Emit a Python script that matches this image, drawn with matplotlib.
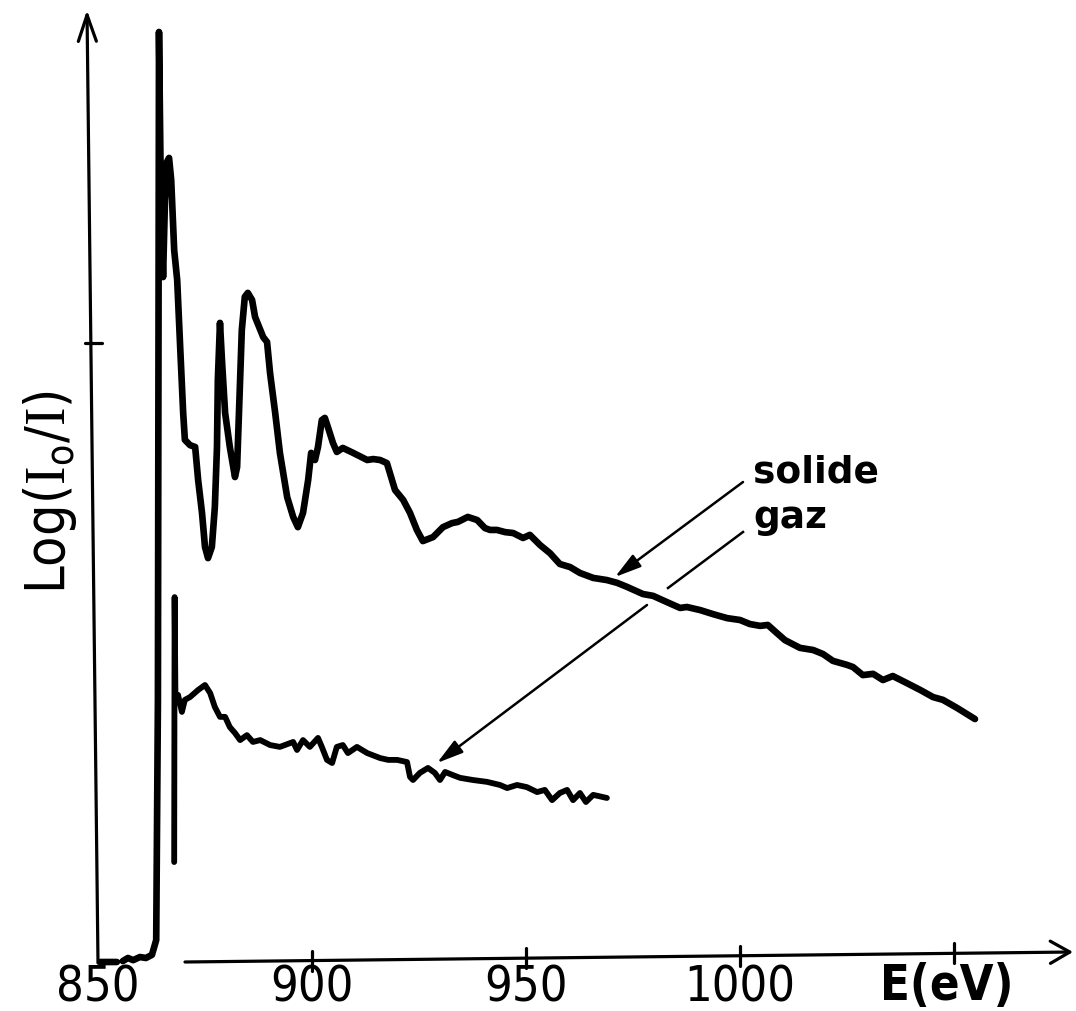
import numpy as np
import matplotlib
matplotlib.use("Agg")
import matplotlib.pyplot as plt
from matplotlib import font_manager as fm

# ---------------- data ----------------
# solid spectrum: photon energy (eV) and Log(I0/I) (arbitrary units)
solide_E = [850.5, 854.4, np.nan, 855.8, 857.0, 858.2, 859.8, 861.2, 862.6, 863.6, 864.0,
            864.25, 864.7, 865.2, 865.65, 866.1, 866.6, 867.1, 867.8, 868.5, 869.2,
            869.9, 870.3, 871.5, 872.7, 873.4, 874.3, 875.0, 875.7, 876.6, 877.3,
            877.8, 878.0, 878.5, 879.0, 879.7, 880.8, 882.0, 882.5, 883.2, 883.6,
            884.3, 885.0, 886.0, 886.7, 888.6, 889.5, 890.2, 891.4, 892.5, 894.2,
            895.6, 896.7, 897.9, 899.1, 899.8, 900.7, 901.4, 902.3, 903.0, 903.7,
            904.9, 905.8, 907.2, 909.6, 912.9, 914.3, 915.9, 917.5, 918.7, 919.4,
            921.3, 922.9, 924.5, 925.9, 928.3, 930.6, 932.7, 934.1, 936.4, 938.6,
            940.4, 941.6, 943.2, 945.1, 947.0, 949.3, 950.9, 953.3, 955.6, 957.9,
            960.3, 962.6, 965.7, 968.9, 971.3, 973.6, 977.3, 979.7, 982.9, 986.0,
            987.6, 990.7, 993.7, 997.0, 1000.0, 1002.3, 1004.7, 1006.5, 1008.6, 1010.5,
            1014.0, 1017.1, 1019.4, 1021.7, 1025.0, 1026.4, 1028.7, 1031.1, 1033.4, 1035.7,
            1039.0, 1042.1, 1045.1, 1047.4, 1050.7, 1054.9]
solide_A = [0.000, 0.000, np.nan, 0.003, 0.013, 0.006, 0.016, 0.013, 0.023, 0.071, 0.847,
            3.005, 2.462, 2.213, 2.462, 2.585, 2.598, 2.527, 2.300, 2.204, 1.987,
            1.774, 1.687, 1.670, 1.664, 1.557, 1.451, 1.341, 1.305, 1.341, 1.470,
            1.664, 1.880, 2.065, 1.935, 1.774, 1.664, 1.567, 1.599, 1.880, 2.042,
            2.149, 2.162, 2.139, 2.084, 2.019, 2.003, 1.903, 1.774, 1.645, 1.502,
            1.438, 1.405, 1.451, 1.557, 1.645, 1.622, 1.664, 1.751, 1.758, 1.729,
            1.677, 1.648, 1.661, 1.645, 1.622, 1.625, 1.622, 1.612, 1.557, 1.525,
            1.493, 1.451, 1.396, 1.360, 1.373, 1.405, 1.418, 1.422, 1.438, 1.428,
            1.402, 1.396, 1.396, 1.389, 1.386, 1.370, 1.380, 1.347, 1.321, 1.286,
            1.276, 1.257, 1.241, 1.234, 1.225, 1.212, 1.189, 1.183, 1.163, 1.144,
            1.147, 1.137, 1.124, 1.111, 1.105, 1.092, 1.086, 1.089, 1.063, 1.040,
            1.015, 1.008, 0.995, 0.973, 0.960, 0.953, 0.927, 0.931, 0.911, 0.924,
            0.901, 0.879, 0.856, 0.847, 0.821, 0.785]

# gas spectrum
gaz_E = [867.8, 867.9, 868.1, 868.7, 869.6, 870.3, 871.5, 873.4, 875.0, 876.2,
         877.3, 878.5, 879.7, 880.8, 882.0, 883.2, 884.8, 886.2, 887.9, 890.2,
         892.5, 895.6, 896.5, 897.9, 899.5, 901.4, 902.3, 903.5, 904.7, 905.8,
         907.2, 908.4, 910.5, 912.9, 915.9, 917.8, 919.9, 922.2, 922.9, 923.6,
         925.2, 927.1, 928.7, 929.9, 931.1, 932.9, 934.6, 937.6, 940.9, 943.9,
         945.6, 947.9, 950.2, 952.6, 954.4, 956.1, 957.9, 959.6, 961.0, 962.6,
         964.0, 965.7, 968.9]
gaz_A = [0.323, 1.179, 0.847, 0.863, 0.808, 0.847, 0.856, 0.879, 0.895, 0.869,
         0.824, 0.792, 0.792, 0.759, 0.740, 0.717, 0.733, 0.711, 0.717, 0.701,
         0.695, 0.711, 0.685, 0.717, 0.695, 0.724, 0.695, 0.653, 0.643, 0.695,
         0.701, 0.675, 0.695, 0.675, 0.659, 0.653, 0.653, 0.646, 0.598, 0.588,
         0.611, 0.627, 0.611, 0.588, 0.614, 0.604, 0.595, 0.588, 0.582, 0.572,
         0.562, 0.572, 0.565, 0.549, 0.556, 0.523, 0.546, 0.556, 0.523, 0.546,
         0.517, 0.540, 0.530]

x_ticks = [850, 900, 950, 1000, 1050]
x_tick_labels = ["850", "900", "950", "1000", ""]
y_ticks = [2.0]
x_label = "E(eV)"
series_labels = ["solide", "gaz"]

# ---------------- fonts ----------------
avail = {f.name for f in fm.fontManager.ttflist}
narrow = "Liberation Sans Narrow" if "Liberation Sans Narrow" in avail else "DejaVu Sans"
plt.rcParams["font.family"] = [narrow, "DejaVu Sans"]
plt.rcParams["font.stretch"] = "condensed"
plt.rcParams["mathtext.fontset"] = "custom"
plt.rcParams["mathtext.rm"] = narrow + ":stretch=condensed"
plt.rcParams["mathtext.sf"] = "Liberation Serif"

# ---------------- figure ----------------
W, H, DPI = 1076, 1011, 100
fig = plt.figure(figsize=(W / DPI, H / DPI), dpi=DPI)
PX_PER_EV = 4.28
PX_PER_UNIT = 309.5
ax = fig.add_axes([98 / W, 49 / H, 978 / W, 962 / H])
ax.set_xlim(850, 850 + 978 / PX_PER_EV)
ax.set_ylim(0, 962 / PX_PER_UNIT)
ax.axis("off")

ink = "black"
ax.plot(solide_E, solide_A, color=ink, lw=4.8, solid_joinstyle="round",
        solid_capstyle="round", clip_on=False)
ax.plot(gaz_E, gaz_A, color=ink, lw=4.2, solid_joinstyle="round",
        solid_capstyle="round", clip_on=False)


def ex(px):  # pixel offset -> eV offset
    return px / PX_PER_EV


def ay(px):  # pixel offset -> absorbance offset
    return px / PX_PER_UNIT


# hand-drawn axes (slightly tilted like the original)
y_axis_bottom = (850.0, -ay(1))
y_axis_top = (850.0 - ex(11), ay(952))
ax.annotate("", xy=y_axis_top, xytext=y_axis_bottom,
            arrowprops=dict(arrowstyle="->,head_length=19,head_width=6.5",
                            mutation_scale=1, lw=2.3, color=ink,
                            shrinkA=0, shrinkB=0), annotation_clip=False)
x_axis_start = (850 + ex(87), 0.0)
x_axis_end = (850 + ex(975), ay(10))
ax.annotate("", xy=x_axis_end, xytext=x_axis_start,
            arrowprops=dict(arrowstyle="->,head_length=14,head_width=8",
                            mutation_scale=1, lw=2.3, color=ink,
                            shrinkA=0, shrinkB=0), annotation_clip=False)


def xaxis_y(E):
    (x0, y0), (x1, y1) = x_axis_start, x_axis_end
    return y0 + (y1 - y0) * (E - x0) / (x1 - x0)


def yaxis_x(A):
    (x0, y0), (x1, y1) = y_axis_bottom, y_axis_top
    return x0 + (x1 - x0) * (A - y0) / (y1 - y0)


for E, lab in zip(x_ticks, x_tick_labels):
    if E > 850:
        yc = xaxis_y(E)
        ax.plot([E, E], [yc - ay(10), yc + ay(10)], color=ink, lw=2.3,
                solid_capstyle="round", clip_on=False)
    if lab:
        ax.text(E, -ay(40), lab, ha="center", va="baseline", fontsize=35,
                color=ink, clip_on=False)

for A in y_ticks:
    xc = yaxis_x(A)
    ax.plot([xc - ex(6), xc + ex(11)], [A, A], color=ink, lw=2.3,
            solid_capstyle="round", clip_on=False)

ax.text(850 + ex(849), -ay(38), x_label, ha="center", va="baseline",
        fontsize=35, color=ink, fontweight="bold", clip_on=False)

fig.text(50 / W, 1 - 492 / H,
         r"Log($\mathsf{I}_{\mathrm{o}}$/$\mathsf{I}$)",
         rotation=90, ha="center", va="center", fontsize=40, color=ink)

# annotations
sol_txt = (850 + ex(655), ay(962 - 483))
gaz_txt = (850 + ex(655), ay(962 - 528))
for pos, lab in zip([sol_txt, gaz_txt], series_labels):
    ax.text(*pos, lab, fontsize=27, family="DejaVu Sans", fontstretch="normal",
            fontweight="bold", ha="left", va="baseline", color=ink)

# arrow to solid curve
ax.annotate("", xy=(850 + ex(517), ay(962 - 577)),
            xytext=(850 + ex(645), ay(962 - 482)),
            arrowprops=dict(arrowstyle="-|>,head_length=16,head_width=4.5",
                            mutation_scale=1, lw=1.8, color=ink,
                            shrinkA=0, shrinkB=0))
# arrow to gas curve (interrupted where it crosses the solid curve)
ax.plot([850 + ex(645), 850 + ex(570)], [ay(962 - 532), ay(962 - 588)],
        color=ink, lw=1.8)
ax.annotate("", xy=(850 + ex(339), ay(962 - 763)),
            xytext=(850 + ex(549), ay(962 - 605)),
            arrowprops=dict(arrowstyle="-|>,head_length=16,head_width=4.5",
                            mutation_scale=1, lw=1.8, color=ink,
                            shrinkA=0, shrinkB=0))

fig.savefig("out.png", dpi=DPI, facecolor="white")
